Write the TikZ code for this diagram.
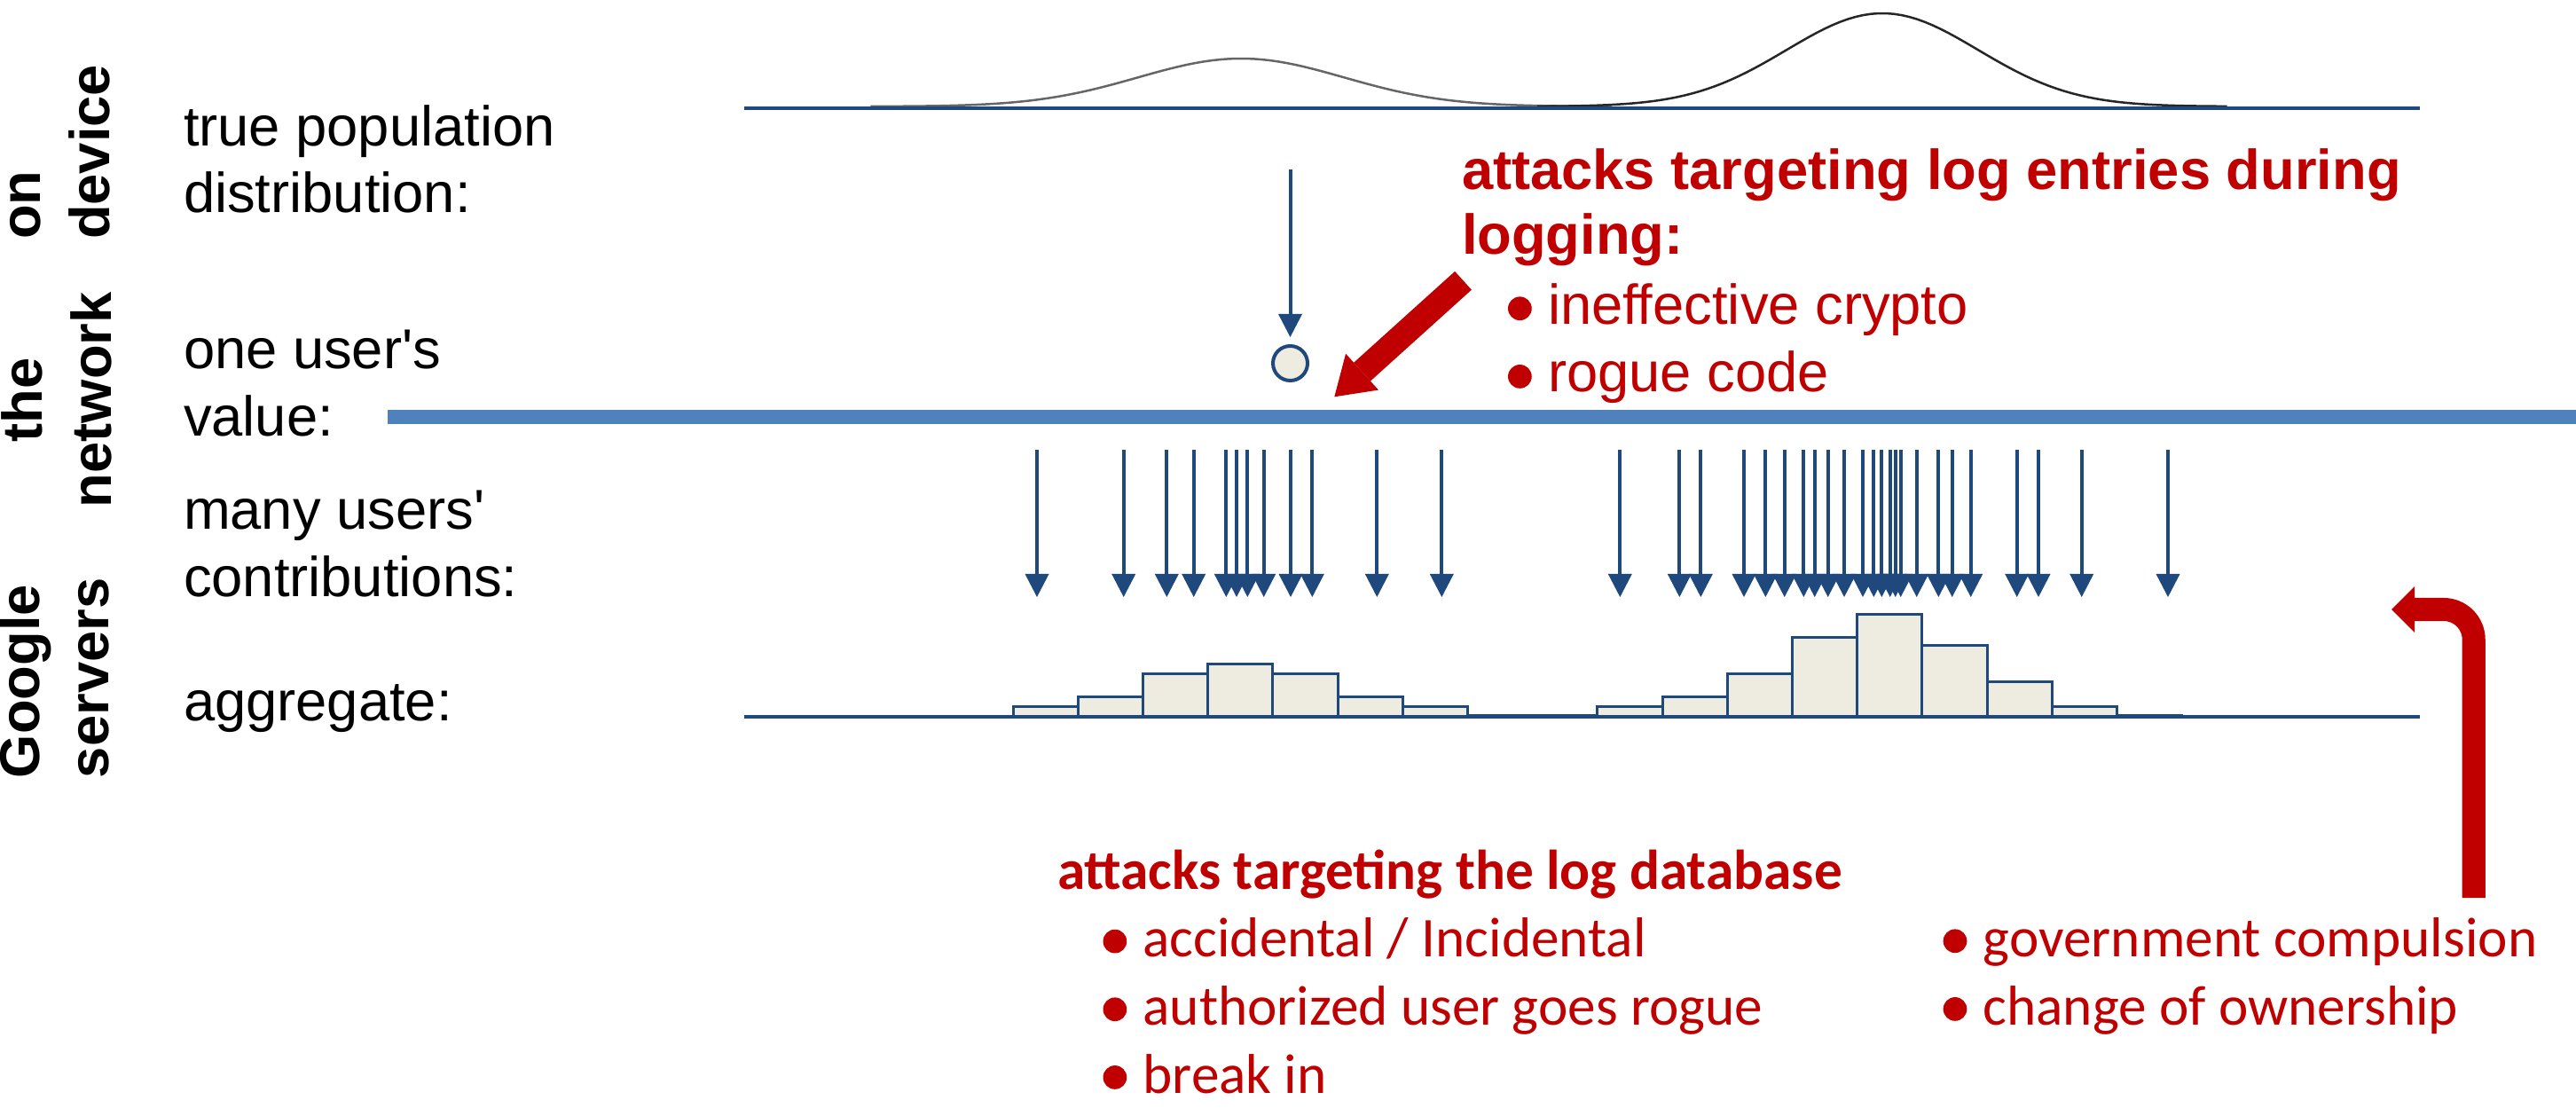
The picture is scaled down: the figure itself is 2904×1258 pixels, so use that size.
\documentclass[tikz,border=0pt]{standalone}
\usepackage{fontspec}
\setmainfont{Liberation Sans}
\newfontfamily\calfont{Carlito}
\usetikzlibrary{arrows.meta}

\definecolor{axisblue}{RGB}{31,73,125}
\definecolor{netblue}{RGB}{79,129,189}
\definecolor{histfill}{RGB}{238,236,225}
\definecolor{attackred}{RGB}{192,0,0}

\newcommand\bul{\tikz[baseline={(0pt,-5pt)}]\fill[attackred] (0pt,0pt) circle (3.8pt);\hspace{5.2pt}}

\begin{document}
\begin{tikzpicture}[x=0.01cm,y=-0.01cm,
  every node/.style={inner sep=0pt,outer sep=0pt},
  rowlabel/.style={anchor=base west,align=left,font=\fontsize{18}{21.6}\selectfont},
  tierlabel/.style={rotate=90,anchor=base west,font=\bfseries\fontsize{18}{22}\selectfont},
  attack/.style={anchor=base west,align=left,text=attackred,font=\fontsize{18}{21.8}\selectfont},
  axis/.style={axisblue,line width=0.04cm},
  gauss/.style={line width=0.025cm},
  flow/.style={axisblue,line width=0.04cm,-{Triangle[length=0.26cm,width=0.27cm,line width=0pt]}},
  bar/.style={draw=axisblue,fill=histfill,line width=0.03cm}]
\useasboundingbox (0,0) rectangle (2904,1258);

\node[tierlabel,align=left] (dev) at (123,270) {on\\device};
\node[tierlabel,align=center] (net) at (125,572) {the\\network};
\node[tierlabel,align=left] (srv) at (122,877) {Google\\servers};

\node[rowlabel] (pop) at (207,240) {true population\\distribution:};
\node[rowlabel] (one) at (207,491) {one user\textquotesingle s\\value:};
\node[rowlabel] (many) at (207,672) {many users\textquotesingle\\contributions:};
\node[rowlabel] (agg) at (207,812) {aggregate:};

\draw[gauss,black!60] plot[domain=-3.6:3.6,samples=90] ({1399+116*\x},{120-54*exp(-0.5*(\x)*(\x))});
\draw[gauss,black!85] plot[domain=-3.6:3.6,samples=90] ({2122+108*\x},{120-105*exp(-0.5*(\x)*(\x))});
\draw[axis] (839,122) -- (2728,122);

\draw[netblue,line width=0.16cm] (437,470) -- (2904,470);

\node[circle,draw=axisblue,fill=histfill,line width=0.04cm,minimum size=0.39cm] (val) at (1454.5,409.5) {};
\coordinate (valsrc) at (1454.5,191);
\draw[flow,shorten >=0.1cm] (valsrc) -- (val);

\foreach \x in {1169,1266.7,1315.3,1345.7,1382.3,1394,1406.3,1424.7,1455,1479.3,1552.3,1625.3,
  1826.3,1893.3,1917.3,1966,1990.3,2011.7,2033.3,2045.7,2060.7,2079,2100,2112.3,
  2121.3,2130.7,2136.7,2142.7,2160.7,2185.3,2200.7,2221.7,2273.7,2298,2346.7,2444}
  \draw[flow] (\x,507) -- (\x,673);

\foreach \h [count=\i from 0] in {12,23,49,60,49,23,12,2,2,12,23,49,90,116,81,40,12,2}
  \filldraw[bar] ({1142+73.2*\i},808) rectangle ++(73.2,-\h);
\draw[axis] (839,808) -- (2728,808);

\node[attack,font=\bfseries\fontsize{18}{21}\selectfont] (logattk) at (1648,287) {attacks targeting log entries during\\logging:};
\node[attack] (logvec) at (1700,442) {\bul ineffective crypto\\\bul rogue code};
\coordinate (logtail) at (1649.5,316.3);
\coordinate (logtip) at (1504.3,447.3);
\draw[attackred,line width=0.28cm,-{Triangle[length=0.42cm,width=0.55cm,line width=0pt]}] (logtail) -- (logtip);

\node[attack,font=\calfont\bfseries\fontsize{18}{21.8}\selectfont] (dbattk) at (1192,1002) {attacks targeting the log database};
\node[attack,font=\calfont\fontsize{18}{21.8}\selectfont] (dbin) at (1243.5,1232) {\bul accidental / Incidental\\\bul authorized user goes rogue\\\bul break in};
\node[attack,font=\calfont\fontsize{18}{21.8}\selectfont] (dbout) at (2190.6,1155) {\bul government compulsion\\\bul change of ownership};
\coordinate (dbfoot) at (2788.7,1012);
\coordinate (dbhead) at (2696,687);
\draw[attackred,line width=0.26cm,rounded corners=0.34cm,-{Triangle[length=0.26cm,width=0.52cm,line width=0pt]}] (dbfoot) |- (dbhead);
\end{tikzpicture}
\end{document}
